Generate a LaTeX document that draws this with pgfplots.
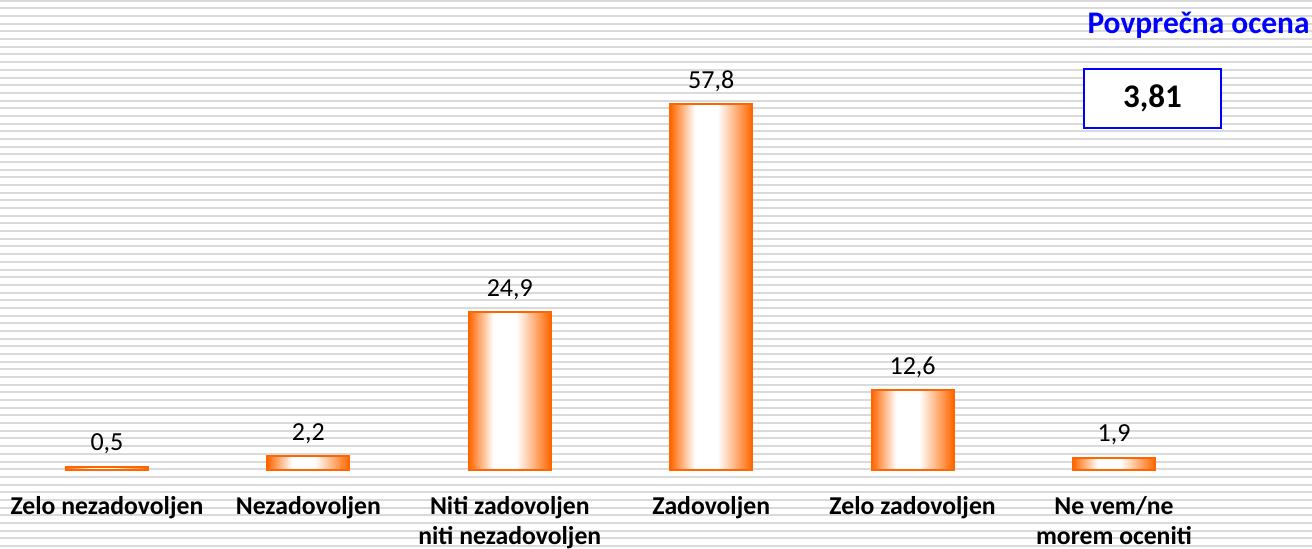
\documentclass[border=0pt]{standalone}
\usepackage{fontspec}
\setmainfont{Carlito}
\usepackage{pgfplots}
\pgfplotsset{compat=1.18}
\definecolor{barorange}{RGB}{255,102,0}
\definecolor{stripe}{RGB}{218,218,218}
\definecolor{titleblue}{RGB}{0,0,255}
\pgfdeclarehorizontalshading{barshade}{100bp}{color(0bp)=(barorange); color(25bp)=(barorange); color(40bp)=(white); color(54bp)=(white); color(75bp)=(barorange); color(100bp)=(barorange)}
\begin{document}
\begin{tikzpicture}
\useasboundingbox (0pt,0pt) rectangle (656pt,274pt);
\begin{scope}
\clip (0pt,0pt) rectangle (656pt,274pt);
\fill[white] (0pt,0pt) rectangle (656pt,274pt);
\foreach \i in {0,...,71}{
  \pgfmathsetmacro\ya{274-0.35-\i*3.84-0.5}
  \pgfmathsetmacro\yb{\ya+1}
  \fill[stripe] (0pt,\ya pt) rectangle (656pt,\yb pt);
}
\end{scope}
\begin{axis}[
  at={(0pt,39pt)}, anchor=south west,
  scale only axis, width=656pt, height=235pt,
  xmin=-0.531, xmax=5.983, ymin=0, ymax=74.25,
  axis line style={draw=none}, major tick length=0pt,
  ytick=\empty, xtick={0,...,5},
  xticklabels={Zelo nezadovoljen, Nezadovoljen, {Niti zadovoljen\\niti nezadovoljen}, Zadovoljen, Zelo zadovoljen, {Ne vem/ne\\morem oceniti}},
  xticklabel style={font=\bfseries\fontsize{12.85}{15}\selectfont, align=center, anchor=north, yshift=-9.5pt},
  clip=false,
  ybar, bar width=41pt, bar shift=0pt,
  nodes near coords,
  nodes near coords style={font=\fontsize{13}{15}\selectfont, text=black, anchor=base, yshift=8pt},
  /pgf/number format/.cd, use comma, fixed, fixed zerofill, precision=1, assume math mode=true,
]
\pgfplotsset{bars/.style={draw=barorange, line width=1.1pt, shading=barshade}}
\addplot[bars] coordinates {(0,0.5)};
\addplot[bars] coordinates {(1,2.2)};
\addplot[bars] coordinates {(2,24.9)};
\addplot[bars] coordinates {(3,57.8)};
\addplot[bars] coordinates {(4,12.6)};
\addplot[bars] coordinates {(5,1.9)};
\end{axis}
\node[anchor=east, inner sep=0pt, text=titleblue, font=\bfseries\fontsize{15.7}{18}\selectfont] at (655pt,261.5pt) {Povprečna ocena};
\draw[titleblue, line width=1pt, fill=white] (542pt,210pt) rectangle (610.5pt,239.5pt);
\node[font=\bfseries\fontsize{16.5}{20}\selectfont] at (576.25pt,224.75pt) {3,81};
\end{tikzpicture}
\end{document}
